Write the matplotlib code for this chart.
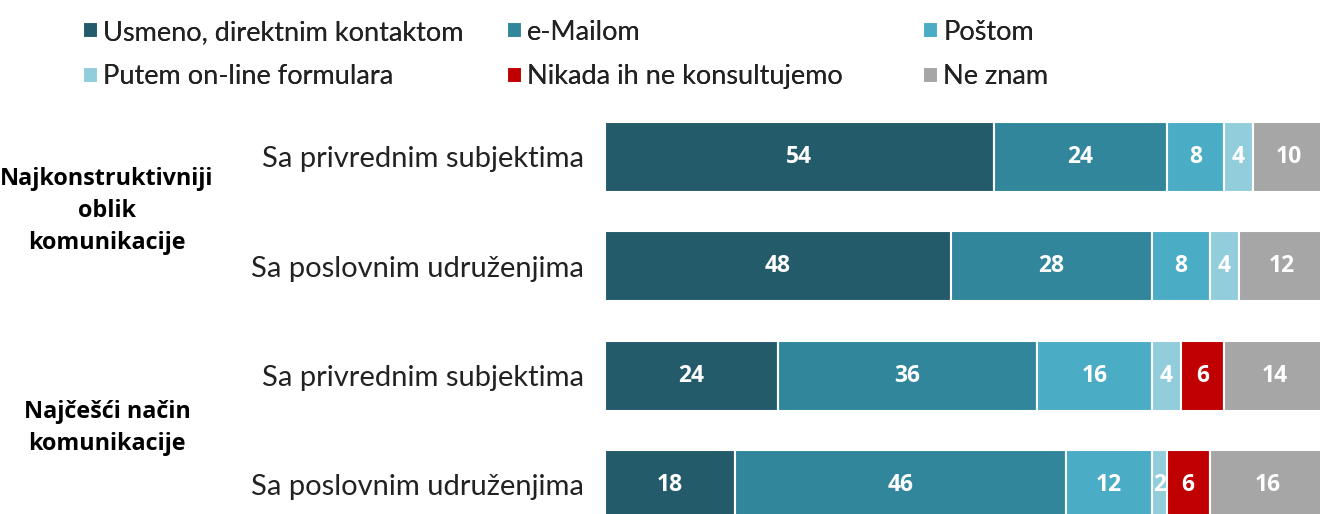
import matplotlib.pyplot as plt
import numpy as np

plt.rcParams['font.family'] = ['Lato', 'DejaVu Sans']
bold_family = ['Open Sans', 'DejaVu Sans']

# data
rows = ['Sa privrednim subjektima', 'Sa poslovnim udruženjima',
        'Sa privrednim subjektima', 'Sa poslovnim udruženjima']
series = ['Usmeno, direktnim kontaktom', 'e-Mailom', 'Poštom',
          'Putem on-line formulara', 'Nikada ih ne konsultujemo', 'Ne znam']
usmeno = [54, 48, 24, 18]
email = [24, 28, 36, 46]
postom = [8, 8, 16, 12]
online = [4, 4, 4, 2]
nikada = [0, 0, 6, 6]
ne_znam = [10, 12, 14, 16]
groups = ['Najkonstruktivniji\noblik\nkomunikacije', 'Najčešći način\nkomunikacije']

colors = ['#235B6B', '#31869B', '#4BACC6', '#92CDDC', '#C00000', '#A6A6A6']
values = [usmeno, email, postom, online, nikada, ne_znam]

fig = plt.figure(figsize=(13.2, 5.14), dpi=100)
ax = fig.add_axes([605 / 1320, 0, 720 / 1320, 412 / 514])

y = np.arange(len(rows))
left = np.zeros(len(rows))
handles = []
for vals, col, name in zip(values, colors, series):
    vals = np.array(vals, dtype=float)
    b = ax.barh(y, vals, left=left, height=0.64, color=col,
                edgecolor='white', linewidth=1.5, label=name)
    handles.append(b)
    for yi, l, v in zip(y, left, vals):
        if v > 0:
            ax.text(l + v / 2, yi, f'{int(v)}', ha='center', va='center',
                    color='white', fontsize=16.5, fontweight='bold',
                    family=bold_family)
    left += vals

ax.set_xlim(0, 100)
ax.set_ylim(3.266, -0.503)
ax.set_yticks(y)
ax.set_yticklabels(rows, fontsize=21, color='#222222')
ax.tick_params(axis='y', length=0, pad=15)
ax.set_xticks([])
for s in ax.spines.values():
    s.set_visible(False)

# group labels
fig.text(107 / 1320, 1 - 211 / 514, groups[0], ha='center', va='center',
         fontsize=16.8, fontweight='bold', linespacing=1.45, family=bold_family)
fig.text(107 / 1320, 1 - 428 / 514, groups[1], ha='center', va='center',
         fontsize=16.8, fontweight='bold', linespacing=1.45, family=bold_family)

# legend, one column per legend
col_x = [72, 496, 912]
for i, x in enumerate(col_x):
    leg = fig.legend([handles[i], handles[i + 3]], [series[i], series[i + 3]],
                     loc='upper left', bbox_to_anchor=(x / 1320, 1 - 9 / 514),
                     frameon=False, fontsize=19.5, handlelength=0.55,
                     handleheight=0.55, handletextpad=0.2, labelspacing=0.72,
                     borderaxespad=0)
    for t in leg.get_texts():
        t.set_color('#222222')
    fig.add_artist(leg)

fig.savefig('out.png', dpi=100)
